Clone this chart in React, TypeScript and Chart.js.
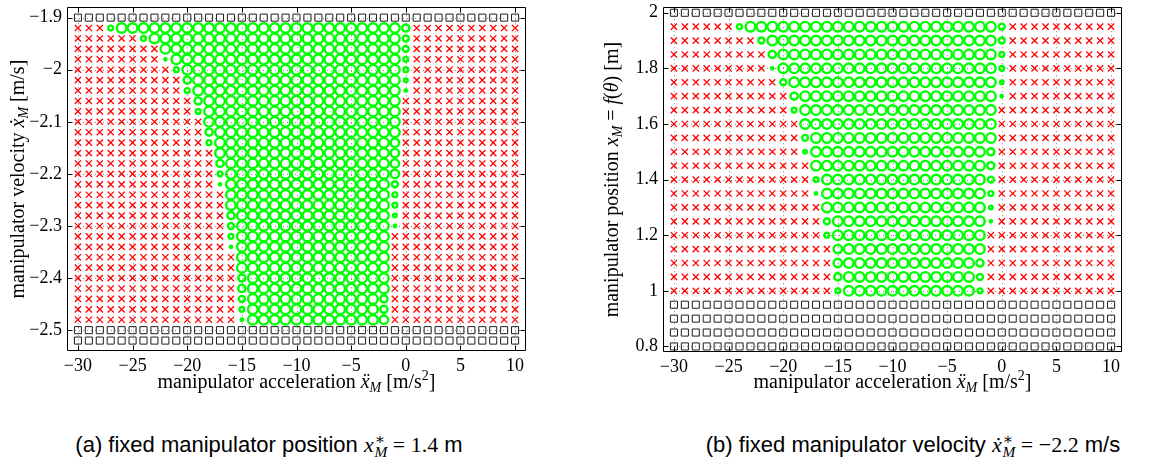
import React, { useEffect, useRef } from "react";
import { Chart, registerables } from "chart.js";

Chart.register(...registerables);

// ---------------- data ----------------
const accelerations = [
  -30, -29, -28, -27, -26, -25, -24, -23, -22, -21,
  -20, -19, -18, -17, -16, -15, -14, -13, -12, -11,
  -10, -9, -8, -7, -6, -5, -4, -3, -2, -1,
  0, 1, 2, 3, 4, 5, 6, 7, 8, 9, 10,
];

const velocityRows = [
  -1.9, -1.92, -1.94, -1.96, -1.98, -2, -2.02, -2.04, -2.06, -2.08,
  -2.1, -2.12, -2.14, -2.16, -2.18, -2.2, -2.22, -2.24, -2.26, -2.28,
  -2.3, -2.32, -2.34, -2.36, -2.38, -2.4, -2.42, -2.44, -2.46, -2.48,
  -2.5, -2.52,
];

const positionRows = [
  2, 1.95, 1.9, 1.85, 1.8, 1.75, 1.7, 1.65, 1.6, 1.55, 1.5, 1.45, 1.4,
  1.35, 1.3, 1.25, 1.2, 1.15, 1.1, 1.05, 1, 0.95, 0.9, 0.85, 0.8,
];

// cell codes per row (columns -30..10): s = square, x = cross, 1-8 = circle size level
const gridVelocity = [
  "ssssssssss ssssssssss ssssssssss sssssssssss",
  "xxx4888888 8888888888 8888888888 6xxxxxxxxxx",
  "xxxxxx4888 8888888888 8888888888 5xxxxxxxxxx",
  "xxxxxxxx88 8888888888 8888888888 5xxxxxxxxxx",
  "xxxxxxxx28 8888888888 8888888888 4xxxxxxxxxx",
  "xxxxxxxxx4 8888888888 8888888888 4xxxxxxxxxx",
  "xxxxxxxxxx 6888888888 8888888888 3xxxxxxxxxx",
  "xxxxxxxxxx 4888888888 8888888888 2xxxxxxxxxx",
  "xxxxxxxxxx x688888888 8888888888 xxxxxxxxxxx",
  "xxxxxxxxxx x488888888 8888888888 xxxxxxxxxxx",
  "xxxxxxxxxx xx88888888 8888888888 xxxxxxxxxxx",
  "xxxxxxxxxx xx68888888 8888888888 xxxxxxxxxxx",
  "xxxxxxxxxx xx48888888 8888888887 xxxxxxxxxxx",
  "xxxxxxxxxx xxx8888888 8888888887 xxxxxxxxxxx",
  "xxxxxxxxxx xxx6888888 8888888887 xxxxxxxxxxx",
  "xxxxxxxxxx xxx4888888 8888888887 xxxxxxxxxxx",
  "xxxxxxxxxx xxx2888888 8888888885 xxxxxxxxxxx",
  "xxxxxxxxxx xxxx888888 8888888884 xxxxxxxxxxx",
  "xxxxxxxxxx xxxx888888 8888888884 xxxxxxxxxxx",
  "xxxxxxxxxx xxxx688888 8888888883 xxxxxxxxxxx",
  "xxxxxxxxxx xxxx588888 8888888882 xxxxxxxxxxx",
  "xxxxxxxxxx xxxx488888 888888888x xxxxxxxxxxx",
  "xxxxxxxxxx xxxx288888 888888888x xxxxxxxxxxx",
  "xxxxxxxxxx xxxxx88888 888888888x xxxxxxxxxxx",
  "xxxxxxxxxx xxxxx88888 888888888x xxxxxxxxxxx",
  "xxxxxxxxxx xxxxx68888 888888888x xxxxxxxxxxx",
  "xxxxxxxxxx xxxxx68888 888888888x xxxxxxxxxxx",
  "xxxxxxxxxx xxxxx58888 888888886x xxxxxxxxxxx",
  "xxxxxxxxxx xxxxx48888 888888886x xxxxxxxxxxx",
  "xxxxxxxxxx xxxxx28888 888888887x xxxxxxxxxxx",
  "ssssssssss ssssssssss ssssssssss sssssssssss",
  "ssssssssss ssssssssss ssssssssss sssssssssss",
];

const gridPosition = [
  "ssssssssss ssssssssss ssssssssss sssssssssss",
  "xxxxxx4888 8888888888 8888888888 5xxxxxxxxxx",
  "xxxxxxxx58 8888888888 8888888888 5xxxxxxxxxx",
  "xxxxxxxxx6 8888888888 8888888888 4xxxxxxxxxx",
  "xxxxxxxxx2 8888888888 8888888888 4xxxxxxxxxx",
  "xxxxxxxxxx 5888888888 8888888888 3xxxxxxxxxx",
  "xxxxxxxxxx x688888888 8888888888 2xxxxxxxxxx",
  "xxxxxxxxxx x488888888 8888888888 xxxxxxxxxxx",
  "xxxxxxxxxx xx88888888 8888888888 xxxxxxxxxxx",
  "xxxxxxxxxx xx58888888 8888888888 xxxxxxxxxxx",
  "xxxxxxxxxx xx38888888 8888888886 xxxxxxxxxxx",
  "xxxxxxxxxx xxx8888888 8888888886 xxxxxxxxxxx",
  "xxxxxxxxxx xxx4888888 8888888885 xxxxxxxxxxx",
  "xxxxxxxxxx xxx2888888 8888888884 xxxxxxxxxxx",
  "xxxxxxxxxx xxxx888888 8888888883 xxxxxxxxxxx",
  "xxxxxxxxxx xxxx588888 8888888882 xxxxxxxxxxx",
  "xxxxxxxxxx xxxx488888 888888888x xxxxxxxxxxx",
  "xxxxxxxxxx xxxxx78888 888888888x xxxxxxxxxxx",
  "xxxxxxxxxx xxxxx78888 888888886x xxxxxxxxxxx",
  "xxxxxxxxxx xxxxx68888 888888885x xxxxxxxxxxx",
  "xxxxxxxxxx xxxxx48888 888888884x xxxxxxxxxxx",
  "ssssssssss ssssssssss ssssssssss sssssssssss",
  "ssssssssss ssssssssss ssssssssss sssssssssss",
  "ssssssssss ssssssssss ssssssssss sssssssssss",
  "ssssssssss ssssssssss ssssssssss sssssssssss",
];

const accelTicks = [-30, -25, -20, -15, -10, -5, 0, 5, 10];
const velocityTicks = [-2.5, -2.4, -2.3, -2.2, -2.1, -2, -1.9];
const positionTicks = [0.8, 1, 1.2, 1.4, 1.6, 1.8, 2];

// ---------------- style ----------------
const SERIF = '"Liberation Serif", "DejaVu Serif", serif';
const SANS = '"Liberation Sans", "DejaVu Sans", sans-serif';
const circleRadius = [0, 0.6, 1.2, 1.8, 2.4, 3.0, 3.6, 4.2, 4.8];
const TITLE_SIZE = 20;
const TICK_SIZE = 18;

type Run = { t: string; it?: boolean; sub?: boolean; sup?: boolean };

const xTitleRuns: Run[] = [
  { t: "manipulator acceleration " },
  { t: "\u1E8D", it: true },
  { t: "M", it: true, sub: true },
  { t: " [m/s" },
  { t: "2", sup: true },
  { t: "]" },
];
const yTitleVelocity: Run[] = [
  { t: "manipulator velocity " },
  { t: "\u1E8B", it: true },
  { t: "M", it: true, sub: true },
  { t: " [m/s]" },
];
const yTitlePosition: Run[] = [
  { t: "manipulator position " },
  { t: "x", it: true },
  { t: "M", it: true, sub: true },
  { t: " = " },
  { t: "f", it: true },
  { t: "(" },
  { t: "\u03B8", it: true },
  { t: ")" },
  { t: " [m]" },
];

function fmt(v: number) {
  const s = String(Math.round(v * 100) / 100);
  return s.replace("-", "\u2212");
}

function drawRuns(
  ctx: CanvasRenderingContext2D,
  runs: Run[],
  px: number,
  py: number,
  size: number,
  rotated: boolean
) {
  const fontFor = (r: Run) => {
    const sz = r.sub || r.sup ? size * 0.7 : size;
    return `${r.it ? "italic " : ""}${sz}px ${SERIF}`;
  };
  ctx.save();
  ctx.translate(px, py);
  if (rotated) ctx.rotate(-Math.PI / 2);
  ctx.fillStyle = "#000";
  ctx.textBaseline = "alphabetic";
  ctx.textAlign = "left";
  let total = 0;
  const widths = runs.map((r) => {
    ctx.font = fontFor(r);
    const w = ctx.measureText(r.t).width;
    total += w;
    return w;
  });
  let x = -total / 2;
  runs.forEach((r, i) => {
    ctx.font = fontFor(r);
    const dy = r.sub ? size * 0.22 : r.sup ? -size * 0.38 : 0;
    ctx.fillText(r.t, x, dy);
    x += widths[i];
  });
  ctx.restore();
}

type PanelCfg = {
  left: number;
  w: number;
  h: number;
  area: { left: number; right: number; top: number; bottom: number };
  rows: number[];
  grid: string[];
  yMin: number;
  yMax: number;
  yTicks: number[];
  yTitle: Run[];
  yTitleX: number;
  xTitleY: number;
};

function makeFramePlugin(cfg: PanelCfg) {
  return {
    id: "frame",
    beforeDatasetsDraw(chart: any) {
      const { ctx, chartArea: a, scales } = chart;
      const xs = scales.x;
      const ys = scales.y;
      ctx.save();
      ctx.strokeStyle = "#8a8a8a";
      ctx.lineWidth = 1;
      ctx.setLineDash([1, 3]);
      ctx.beginPath();
      for (const v of accelTicks) {
        const p = Math.round(xs.getPixelForValue(v)) + 0.5;
        ctx.moveTo(p, a.top);
        ctx.lineTo(p, a.bottom);
      }
      for (const v of cfg.yTicks) {
        const p = Math.round(ys.getPixelForValue(v)) + 0.5;
        ctx.moveTo(a.left, p);
        ctx.lineTo(a.right, p);
      }
      ctx.stroke();
      ctx.restore();
    },
    afterDatasetsDraw(chart: any) {
      const { ctx, chartArea: a, scales } = chart;
      const xs = scales.x;
      const ys = scales.y;
      const L = Math.round(a.left) + 0.5;
      const R = Math.round(a.right) - 0.5;
      const T = Math.round(a.top) + 0.5;
      const B = Math.round(a.bottom) - 0.5;
      const tl = 5;
      ctx.save();
      ctx.strokeStyle = "#000";
      ctx.lineWidth = 1;
      ctx.beginPath();
      ctx.rect(L, T, R - L, B - T);
      for (const v of accelTicks) {
        const p = Math.round(xs.getPixelForValue(v)) + 0.5;
        ctx.moveTo(p, B);
        ctx.lineTo(p, B - tl);
        ctx.moveTo(p, T);
        ctx.lineTo(p, T + tl);
      }
      for (const v of cfg.yTicks) {
        const p = Math.round(ys.getPixelForValue(v)) + 0.5;
        ctx.moveTo(L, p);
        ctx.lineTo(L + tl, p);
        ctx.moveTo(R, p);
        ctx.lineTo(R - tl, p);
      }
      ctx.stroke();
      ctx.restore();
    },
    afterDraw(chart: any) {
      const { ctx, chartArea: a } = chart;
      drawRuns(ctx, xTitleRuns, (a.left + a.right) / 2, cfg.xTitleY, TITLE_SIZE, false);
      drawRuns(ctx, cfg.yTitle, cfg.yTitleX, (a.top + a.bottom) / 2, TITLE_SIZE, true);
    },
  };
}

function buildConfig(cfg: PanelCfg): any {
  const squares: { x: number; y: number }[] = [];
  const crosses: { x: number; y: number }[] = [];
  const circles: { x: number; y: number }[] = [];
  const radii: number[] = [];
  cfg.grid.forEach((row, i) => {
    const cells = row.replace(/ /g, "");
    for (let j = 0; j < cells.length && j < accelerations.length; j++) {
      const c = cells[j];
      const p = { x: accelerations[j], y: cfg.rows[i] };
      if (c === "s") squares.push(p);
      else if (c === "x") crosses.push(p);
      else {
        circles.push(p);
        radii.push(circleRadius[Number(c)] || 1);
      }
    }
  });
  const tickFont = { family: SERIF, size: TICK_SIZE };
  return {
    type: "scatter",
    data: {
      datasets: [
        {
          data: squares,
          pointStyle: "rect",
          pointRadius: 5,
          borderColor: "#1e1e1e",
          backgroundColor: "rgba(0,0,0,0)",
          borderWidth: 1,
        },
        {
          data: crosses,
          pointStyle: "crossRot",
          pointRadius: 4.4,
          borderColor: "#ff0000",
          backgroundColor: "#ff0000",
          borderWidth: 1.3,
        },
        {
          data: circles,
          pointStyle: "circle",
          pointRadius: radii,
          borderColor: "#00ff00",
          backgroundColor: "rgba(0,0,0,0)",
          borderWidth: 2.4,
        },
      ],
    },
    options: {
      animation: false,
      responsive: false,
      events: [],
      layout: {
        padding: {
          left: 0,
          top: cfg.area.top,
          right: cfg.w - cfg.area.right,
          bottom: 0,
        },
      },
      plugins: {
        legend: { display: false },
        tooltip: { enabled: false },
      },
      scales: {
        x: {
          type: "linear",
          position: "bottom",
          min: -31,
          max: 11,
          afterBuildTicks: (s: any) => {
            s.ticks = accelTicks.map((v) => ({ value: v }));
          },
          afterFit: (s: any) => {
            s.height = cfg.h - cfg.area.bottom;
            s.paddingLeft = 0;
            s.paddingRight = 0;
            s.paddingTop = 0;
            s.paddingBottom = 0;
          },
          ticks: {
            callback: (v: any) => fmt(Number(v)),
            font: tickFont,
            color: "#000",
            padding: 4,
            maxRotation: 0,
            minRotation: 0,
            autoSkip: false,
          },
          grid: { display: false, drawTicks: false },
          border: { display: false },
        },
        y: {
          type: "linear",
          position: "left",
          min: cfg.yMin,
          max: cfg.yMax,
          afterBuildTicks: (s: any) => {
            s.ticks = cfg.yTicks.map((v) => ({ value: v }));
          },
          afterFit: (s: any) => {
            s.width = cfg.area.left;
            s.paddingLeft = 0;
            s.paddingRight = 0;
            s.paddingTop = 0;
            s.paddingBottom = 0;
          },
          ticks: {
            callback: (v: any) => fmt(Number(v)),
            font: tickFont,
            color: "#000",
            padding: 5,
            autoSkip: false,
          },
          grid: { display: false, drawTicks: false },
          border: { display: false },
        },
      },
    },
    plugins: [makeFramePlugin(cfg)],
  };
}

const panelA: PanelCfg = {
  left: 0,
  w: 582,
  h: 400,
  area: { left: 67, right: 526, top: 7, bottom: 351 },
  rows: velocityRows,
  grid: gridVelocity,
  yMin: -2.54,
  yMax: -1.88,
  yTicks: velocityTicks,
  yTitle: yTitleVelocity,
  yTitleX: 24,
  xTitleY: 388,
};

const panelB: PanelCfg = {
  left: 582,
  w: 583,
  h: 400,
  area: { left: 81, right: 540, top: 7, bottom: 352 },
  rows: positionRows,
  grid: gridPosition,
  yMin: 0.78,
  yMax: 2.02,
  yTicks: positionTicks,
  yTitle: yTitlePosition,
  yTitleX: 36,
  xTitleY: 388,
};

function Panel({ cfg }: { cfg: PanelCfg }) {
  const ref = useRef<HTMLCanvasElement>(null);
  useEffect(() => {
    const c = ref.current;
    if (!c) return;
    const chart = new Chart(c, buildConfig(cfg));
    return () => chart.destroy();
  }, [cfg]);
  return (
    <canvas
      ref={ref}
      width={cfg.w}
      height={cfg.h}
      style={{
        position: "absolute",
        left: cfg.left,
        top: 0,
        width: cfg.w,
        height: cfg.h,
      }}
    />
  );
}

function Stack({ dot }: { dot: boolean }) {
  return (
    <span style={{ fontFamily: SERIF }}>
      <span style={{ fontStyle: "italic" }}>{dot ? "\u1E8B" : "x"}</span>
      <span
        style={{
          display: "inline-block",
          verticalAlign: "-0.32em",
          fontSize: "0.7em",
          lineHeight: "0.85em",
          textAlign: "left",
          marginLeft: "0.05em",
        }}
      >
        <span style={{ display: "block" }}>{"\u2217"}</span>
        <span style={{ display: "block", fontStyle: "italic" }}>M</span>
      </span>
    </span>
  );
}

const captionStyle: React.CSSProperties = {
  position: "absolute",
  top: 431,
  textAlign: "center",
  fontFamily: SANS,
  fontSize: 22,
  lineHeight: "28px",
  whiteSpace: "nowrap",
  color: "#000",
};

export default function App() {
  return (
    <div
      style={{
        position: "absolute",
        left: 0,
        top: 0,
        width: 1165,
        height: 468,
        background: "#fff",
        overflow: "hidden",
      }}
    >
      <Panel cfg={panelA} />
      <Panel cfg={panelB} />
      <div style={{ ...captionStyle, left: 0, width: 538 }}>
        (a) fixed manipulator position <Stack dot={false} />
        <span style={{ fontFamily: SERIF }}> = 1.4</span> m
      </div>
      <div style={{ ...captionStyle, left: 663, width: 500 }}>
        (b) fixed manipulator velocity <Stack dot={true} />
        <span style={{ fontFamily: SERIF }}> = {"\u2212"}2.2</span> m/s
      </div>
    </div>
  );
}
